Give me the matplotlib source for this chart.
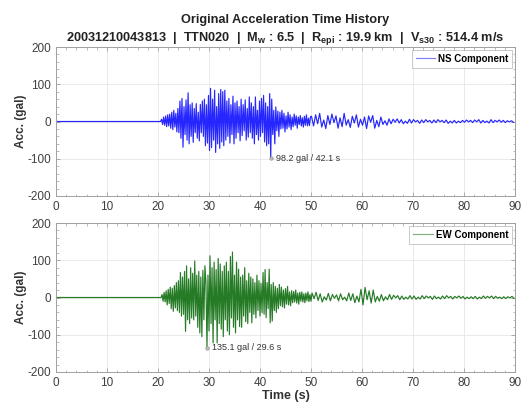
import numpy as np
import matplotlib
matplotlib.use('Agg')
import matplotlib.pyplot as plt
from matplotlib.ticker import AutoMinorLocator, MultipleLocator

plt.rcParams['font.family'] = ['Liberation Sans', 'DejaVu Sans']
plt.rcParams['mathtext.fontset'] = 'custom'
plt.rcParams['mathtext.rm'] = 'Liberation Sans'
plt.rcParams['mathtext.bf'] = 'Liberation Sans:bold'
plt.rcParams['axes.unicode_minus'] = False

# ---------------- DATA ----------------
# NS component, strong part: 20.5 s onward, 0.2 s step
ns_strong = [
    0, 6, -8, 12, -10, 15, -14, 18, -12, 20,
    -18, 25, -22, 30, -15, 22, -28, 35, -30, 55,
    -45, 62, -69, 40, -35, 58, -50, 77, -60, 45,
    -40, 50, -56, 35, -30, 48, -45, 25, -52, 46,
    -30, 55, -40, 60, -65, 45, -58, 70, -78, 89,
    -70, 60, -50, 84, -83, 40, -60, 75, -72, 86,
    -55, 80, -65, 84, -50, 55, -40, 62, -58, 45,
    -35, 68, -60, 50, -45, 55, -30, 40, -52, 60,
    -38, 45, -25, 58, -50, 35, -42, 66, -30, 50,
    -45, 40, -60, 66, -35, 30, -50, 55, -40, 62,
    -30, 70, -55, 50, -65, 40, -60, 75, -98.2, 60,
    -35, 30, -60, 39, -25, 28, -40, 25, -20, 30,
    -18, 22, -28, 15, -20, 25, -15, 18, -22, 12,
    -14, 20, -10, 15, -18, 12, -8, 16, -12, 10,
    -15, 14, -10, 18, -12, 9, -11, 13,
]
# NS tail: 50.1 s onward, 0.4 s step
ns_tail = [
    14, -12, 18, -6, 22, -15, 4, -19, 16, -8,
    20, -3, 15, -18, 10, -14, 22, -10, 5, -16,
    14, -4, 18, -15, 6, -10, 12, -19, 15, -2,
    16, -18, 3, -14, 12, -8, 2, -10, 7, -6,
    6, -2, 7, -4, 5, -6, 1, -5, 6, -4,
    5, -1, 3, -5, 4, -3, 5, -1, 3, -4,
    4, -3, 5, -1, 3, -3, 4, -5, 1, -4,
    3, -4, 1, -3, 3, -2, 4, -1, 3, -3,
    4, -1, 5, -4, 3, -3, 1, -4, 5, -3,
    3, -1, 4, -2, 3, -3, 2, -1, 2, -2,
]
# EW component, strong part: 20.6 s onward, 0.2 s step
ew_strong = [
    0, 8, -10, 14, -12, 18, -20, 22, -16, 28,
    -30, 25, -37, 32, -28, 40, -35, 45, -40, 67,
    -50, 55, -45, 70, -91, 85, -60, 50, -70, 80,
    -55, 65, -60, 98, -50, 60, -80, 70, -95, 55,
    -105, 73, -60, 85, 40, -135.1, 60, -90, 112, -70,
    80, -122, 95, -60, 75, -122, 105, -70, 90, -85,
    70, -105, 85, -60, 95, -90, 70, -100, 110, -55,
    122, -80, 60, -95, 95, -60, 76, -78, 55, -80,
    60, -50, 80, -65, 45, -70, 65, -40, 55, -68,
    50, -45, 40, -55, 60, -35, 45, -50, 38, -41,
    67, -45, 75, -54, 40, -30, 76, -68, 35, -63,
    40, -35, 30, -40, 25, -30, 35, -22, 28, -25,
    20, -28, 24, -18, 30, -20, 15, -22, 18, -14,
    16, -12, 20, -15, 12, -18, 14, -10, 15, -12,
    10, -14, 12, -9, 15, -11, 8, -10,
]
# EW tail: 50.2 s onward, 0.4 s step
ew_tail = [
    12, -3, 14, -8, 10, -12, 2, -7, 11, -9,
    8, -2, 7, -9, 10, -6, 1, -9, 12, -8,
    10, -14, 4, -12, 22, -20, 27, -6, 18, -15,
    20, -12, 3, -10, 8, -9, 2, -6, 8, -5,
    6, -1, 5, -6, 4, -5, 1, -4, 5, -4,
    4, -5, 1, -4, 5, -3, 4, -1, 3, -5,
    4, -3, 1, -4, 4, -3, 5, -1, 3, -4,
    3, -1, 4, -2, 3, -4, 1, -3, 2, -3,
    3, -4, 1, -3, 4, -2, 3, -1, 4, -3,
    3, -2, 1, -3, 2, -3, 2, -1, 3, -2,
]

ns_t = np.concatenate([[0.0], 20.5 + 0.2 * np.arange(len(ns_strong)),
                       50.1 + 0.4 * np.arange(len(ns_tail))])
ns_a = np.concatenate([[0.0], ns_strong, ns_tail])
ew_t = np.concatenate([[0.0], 20.6 + 0.2 * np.arange(len(ew_strong)),
                       50.2 + 0.4 * np.arange(len(ew_tail))])
ew_a = np.concatenate([[0.0], ew_strong, ew_tail])

# ---------------- PLOT ----------------
fig = plt.figure(figsize=(5.23, 4.05), dpi=100)
ax1 = fig.add_axes([56 / 523, 1 - 196 / 405, 459 / 523, 149 / 405])
ax2 = fig.add_axes([56 / 523, 1 - 372 / 405, 459 / 523, 149 / 405])

tick_col = '#404040'
spine_col = '#a0a0a0'

for ax, t, a, col, name in [(ax1, ns_t, ns_a, '#0000ff', 'NS Component'),
                            (ax2, ew_t, ew_a, '#006400', 'EW Component')]:
    ax.plot(t, a, color=col, lw=0.85, alpha=0.85, label=name)
    i = np.argmin(a)
    ax.plot(t[i], a[i], 'o', ms=2.5, color='#909090', mfc='#c0c0c0', mew=0.5)
    ax.text(t[i] + 1.0, a[i], '%.1f gal / %.1f s' % (abs(a[i]), t[i]),
            fontsize=6.5, color='#333333', va='center')
    ax.set_xlim(0, 90)
    ax.set_ylim(-200, 200)
    ax.xaxis.set_major_locator(MultipleLocator(10))
    ax.yaxis.set_major_locator(MultipleLocator(100))
    ax.xaxis.set_minor_locator(AutoMinorLocator(5))
    ax.yaxis.set_minor_locator(AutoMinorLocator(5))
    ax.tick_params(which='both', direction='in', top=True, right=True,
                   colors=spine_col, labelcolor=tick_col, labelsize=8.5)
    ax.tick_params(which='major', length=3, width=0.6)
    ax.tick_params(which='minor', length=1.8, width=0.5)
    ax.grid(True, which='major', color='#e6e6e6', lw=0.6)
    ax.set_axisbelow(True)
    for s in ax.spines.values():
        s.set_color(spine_col)
        s.set_linewidth(0.7)
    ax.set_ylabel('Acc. (gal)', fontsize=8.5, fontweight='bold', color='#333333', labelpad=0)
    leg = ax.legend(loc='upper right', prop={'weight': 'bold', 'size': 7},
                    fancybox=False, handlelength=2.0, borderpad=0.4,
                    handletextpad=0.3, borderaxespad=0.3)
    leg.get_frame().set_edgecolor('#b0b0b0')
    leg.get_frame().set_linewidth(0.6)
    leg.get_lines()[0].set_alpha(0.5)

ax2.set_xlabel('Time (s)', fontsize=9, fontweight='bold', color='#333333', labelpad=1)

fig.text(285 / 523, 1 - 20 / 405, 'Original Acceleration Time History',
         ha='center', va='center', fontsize=9.2, fontweight='bold', color='#222222')
fig.text(285 / 523, 1 - 39 / 405,
         r'20031210043813  |  TTN020  |  M$_\mathbf{w}$ : 6.5  |  R$_\mathbf{epi}$ : 19.9 km  |  V$_\mathbf{s30}$ : 514.4 m/s',
         ha='center', va='center', fontsize=9.2, fontweight='bold', color='#222222')

plt.savefig('out.png', dpi=100)
